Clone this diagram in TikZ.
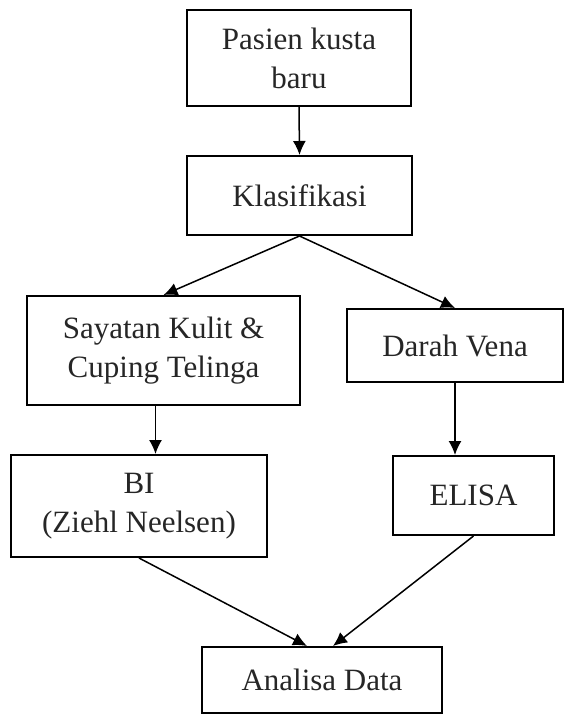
\documentclass[tikz,border=0pt]{standalone}
\usepackage{fontspec}
\setmainfont{Liberation Serif}
\usetikzlibrary{arrows.meta}

\begin{document}
\begin{tikzpicture}[x=0.5pt,y=-0.5pt,>=Latex,
  box/.style={draw=black,line width=1pt,align=center,text=black!85,inner sep=2pt,font=\fontsize{15.5}{19.5}\selectfont},
  arr/.style={-{Latex[length=7pt,width=6.5pt]},line width=0.75pt}]
\useasboundingbox (0,0) rectangle (566,715);
\node[box,minimum width=112pt,minimum height=48pt] (pas) at (299,58) {Pasien kusta\\baru};
\node[box,minimum width=112.5pt,minimum height=39.5pt] (kla) at (299.5,195.5) {Klasifikasi};
\draw[arr] (pas.south)--(kla.north);
\node[box,minimum width=136.5pt,minimum height=54.5pt] (say) at (163.5,350.5) {Sayatan Kulit \&\\Cuping Telinga};
\draw[arr] (kla.south)--(say.north);
\node[box,minimum width=108pt,minimum height=36.5pt] (dar) at (455,345.5) {Darah Vena};
\draw[arr] (kla.south)--(dar.north);
\node[box,minimum width=128pt,minimum height=51pt] (bi) at (139,506) {BI\\(Ziehl Neelsen)};
\draw[arr] ([xshift=-4pt]say.south)--([xshift=-4pt]say.south |- bi.north);
\node[box,minimum width=80.5pt,minimum height=39.5pt] (eli) at (473.5,495.5) {ELISA};
\draw[arr] (dar.south)--(dar.south |- eli.north);
\node[box,minimum width=120pt,minimum height=33pt] (ana) at (322,680) {Analisa Data};
\draw[arr] (bi.south)--([xshift=-7.5pt]ana.north);
\draw[arr] (eli.south)--([xshift=5.5pt]ana.north);
\end{tikzpicture}
\end{document}
